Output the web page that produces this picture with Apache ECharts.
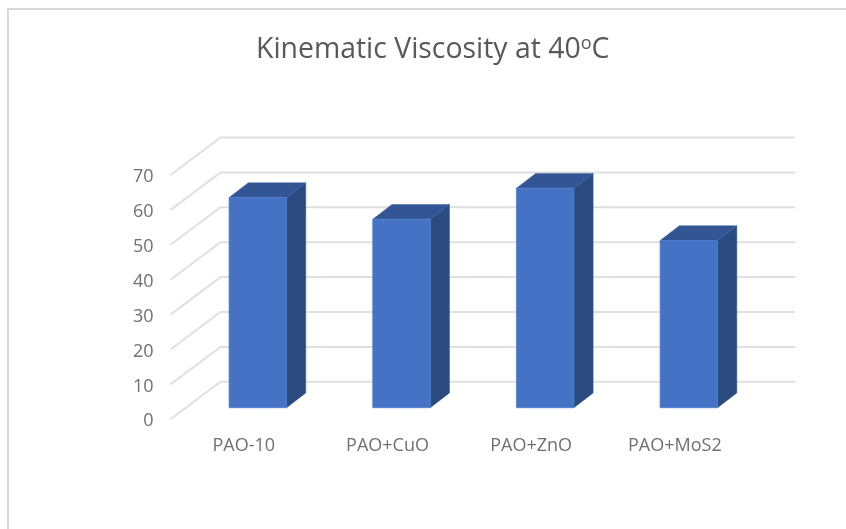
<!DOCTYPE html>
<html>
<head>
<meta charset="utf-8">
<style>html,body{margin:0;padding:0;background:#fff}#chart{width:846px;height:529px}</style>
<script src="https://cdn.jsdelivr.net/npm/echarts@6/dist/echarts.min.js"></script>
</head>
<body>
<div id="chart"></div>
<script>
const categories = ['PAO-10', 'PAO+CuO', 'PAO+ZnO', 'PAO+MoS2'];
const viscosity = [60.2, 54.0, 62.9, 47.9];
const yTicks = [0, 10, 20, 30, 40, 50, 60, 70];

// Oblique projection of the box: how far the back wall sits from the front plane,
// and where each bar sits inside that depth.
const WALL_DX = 50, WALL_DY = -37.5;
const BAR_INSET_DX = 15.5, BAR_INSET_DY = -11.6;
const BAR_DX = 19.2, BAR_DY = -14.8;
const BAR_RATIO = 0.4;

const chart = echarts.init(document.getElementById('chart'), null, { renderer: 'canvas' });

function renderWallLine(params, api) {
  const rect = params.coordSys;
  const y = api.coord([0, api.value(0)])[1];
  return {
    type: 'polyline',
    shape: { points: [
      [rect.x, y],
      [rect.x + WALL_DX, y + WALL_DY],
      [rect.x + rect.width + WALL_DX, y + WALL_DY]
    ] },
    style: { fill: 'none', stroke: '#e0e0e0', lineWidth: 2 },
    silent: true
  };
}

function renderBar(params, api) {
  const i = api.value(0);
  const top = api.coord([i, api.value(1)]);
  const base = api.coord([i, 0]);
  const w = api.size([1, 0])[0] * BAR_RATIO;
  const x0 = top[0] - w / 2 + BAR_INSET_DX;
  const x1 = x0 + w;
  const yt = top[1] + BAR_INSET_DY;
  const yb = base[1] + BAR_INSET_DY;
  return {
    type: 'group',
    children: [
      { type: 'polygon',
        shape: { points: [[x1, yt], [x1 + BAR_DX, yt + BAR_DY], [x1 + BAR_DX, yb + BAR_DY], [x1, yb]] },
        style: { fill: '#2a4a80', stroke: '#2f5290', lineWidth: 0.5 } },
      { type: 'polygon',
        shape: { points: [[x0, yt], [x0 + BAR_DX, yt + BAR_DY], [x1 + BAR_DX, yt + BAR_DY], [x1, yt]] },
        style: { fill: '#335593', stroke: '#3a5fa3', lineWidth: 0.5 } },
      { type: 'rect',
        shape: { x: x0, y: yt, width: w, height: yb - yt },
        style: { fill: '#4472c4', stroke: '#4f7ccb', lineWidth: 0.8 } }
    ]
  };
}

chart.setOption({
  animation: false,
  backgroundColor: '#ffffff',
  textStyle: { fontFamily: '"Open Sans", "Noto Sans", sans-serif' },
  title: {
    text: 'Kinematic Viscosity at 40{sup|o}C',
    left: 251,
    top: 30,
    textStyle: {
      fontFamily: '"Open Sans", "Noto Sans", sans-serif',
      fontSize: 28.4,
      fontWeight: 'normal',
      color: '#595959',
      rich: {
        sup: { fontSize: 18, color: '#595959', padding: [0, 0, 11, 0],
               fontFamily: '"Open Sans", "Noto Sans", sans-serif' }
      }
    }
  },
  grid: { left: 170.5, top: 175, width: 574.7, height: 244.3 },
  xAxis: {
    type: 'category',
    data: categories,
    axisLine: { show: false },
    axisTick: { show: false },
    axisLabel: { color: '#707070', fontSize: 18, margin: 18, padding: [0, 0, 0, 3] }
  },
  yAxis: {
    type: 'value',
    min: 0,
    max: 70,
    interval: 10,
    axisLine: { show: false },
    axisTick: { show: false },
    splitLine: { show: false },
    axisLabel: {
      margin: 17,
      formatter: '{n|{value}}',
      rich: { n: { color: '#707070', fontSize: 18, padding: [4, 0, 0, 0],
                   fontFamily: '"Open Sans", "Noto Sans", sans-serif' } }
    }
  },
  series: [
    { type: 'custom', renderItem: renderWallLine, data: yTicks.map(v => [v]),
      encode: { y: 0 }, silent: true, z: 1 },
    { type: 'custom', renderItem: renderBar,
      data: viscosity.map((v, i) => [i, v]),
      encode: { x: 0, y: 1 }, z: 2 }
  ],
  graphic: [
    // Thin frame of the chart area along its top and left edges
    { type: 'line', silent: true, shape: { x1: 8, y1: 9, x2: 846, y2: 9 },
      style: { stroke: '#d9d9d9', lineWidth: 2 } },
    { type: 'line', silent: true, shape: { x1: 8, y1: 8, x2: 8, y2: 529 },
      style: { stroke: '#d9d9d9', lineWidth: 2 } }
  ]
});
</script>
</body>
</html>
